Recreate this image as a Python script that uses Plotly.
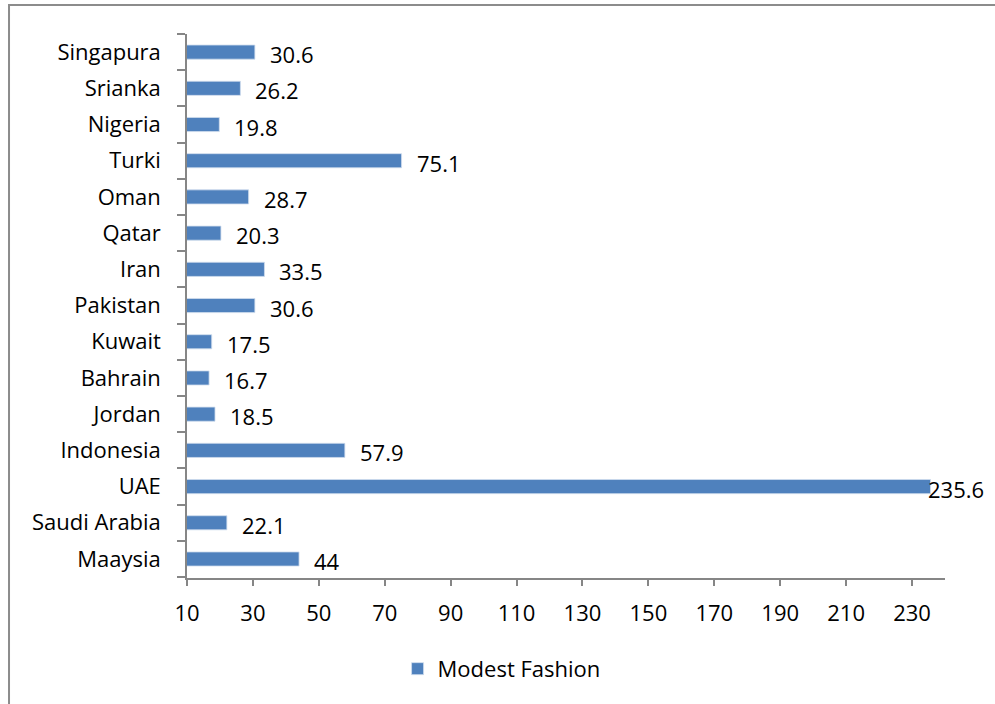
import plotly.graph_objects as go

countries = ["Maaysia", "Saudi Arabia", "UAE", "Indonesia", "Jordan", "Bahrain", "Kuwait",
             "Pakistan", "Iran", "Qatar", "Oman", "Turki", "Nigeria", "Srianka", "Singapura"]
values = [44, 22.1, 235.6, 57.9, 18.5, 16.7, 17.5, 30.6, 33.5, 20.3, 28.7, 75.1, 19.8, 26.2, 30.6]
series_name = "Modest Fashion"
x_ticks = list(range(10, 231, 20))
x_max = 240

FONT = "Open Sans"
FS = 22
AXIS = "#868686"

fig = go.Figure()
fig.add_trace(go.Bar(
    y=countries, x=values, orientation="h", name=series_name,
    marker=dict(color="#4F81BD", line=dict(color="#D0DDEE", width=0.8)),
    showlegend=True,
))

# data labels: placed just right of each bar end; a label that would run past the
# chart area is pulled back against the bar end (as the source chart does)
for c, v in zip(countries, values):
    fig.add_annotation(x=v, y=c, xref="x", yref="y", text=f"{v:g}", showarrow=False,
                       xanchor="left", yanchor="middle",
                       xshift=13 if v < x_max - 25 else -5, yshift=-2,
                       font=dict(family=FONT, size=FS, color="#000000"))

fig.update_layout(
    width=995, height=704,
    margin=dict(l=187, r=50, t=34, b=126),
    paper_bgcolor="white", plot_bgcolor="white",
    font=dict(family=FONT, size=FS, color="#000000"),
    bargap=0.61,
    legend=dict(orientation="h", x=0.415, xanchor="center", y=-0.167, yanchor="middle",
                font=dict(family=FONT, size=FS), itemwidth=30),
    shapes=[dict(type="rect", xref="paper", yref="paper",
                 x0=-0.2348, x1=1.3, y0=-0.5, y1=1.0533,
                 line=dict(color="#8C8C8C", width=2), layer="below")],
)
fig.update_xaxes(range=[10, x_max], tickvals=x_ticks, showline=True, linecolor=AXIS, linewidth=1.5,
                 ticks="outside", ticklen=6, tickcolor=AXIS, tickwidth=1.5, showgrid=False,
                 zeroline=False, ticklabelstandoff=9, tickfont=dict(family=FONT, size=FS))
fig.update_yaxes(showline=True, linecolor=AXIS, linewidth=1.5, ticks="outside", ticklen=8,
                 tickcolor=AXIS, tickwidth=1.5, tickson="boundaries", showgrid=False,
                 ticklabelstandoff=20, tickfont=dict(family=FONT, size=FS))

fig.write_html("out.html")
